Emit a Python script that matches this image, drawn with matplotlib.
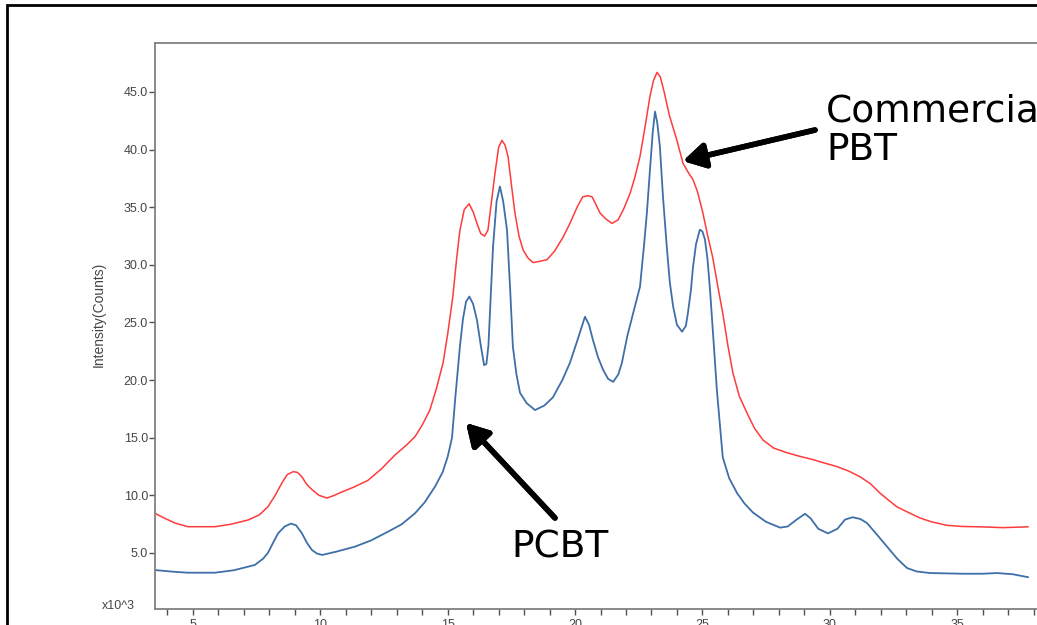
import matplotlib
matplotlib.use("Agg")
import matplotlib.pyplot as plt
from matplotlib.patches import Rectangle
from matplotlib.ticker import MultipleLocator, FixedLocator

plt.rcParams['font.family'] = ['Liberation Sans', 'DejaVu Sans']

# 2-theta (deg) / intensity (x10^3 counts)
pbt_x = [3.51, 3.9, 4.3, 4.8, 5.86, 6.5, 7.16, 7.6, 7.94, 8.2, 8.5, 8.7, 8.93, 9.1,
         9.28, 9.45, 9.67, 9.95, 10.26, 10.55, 10.85, 11.3, 11.87, 12.4, 12.93, 13.4,
         13.72, 14.0, 14.3, 14.55, 14.82, 15.0, 15.2, 15.35, 15.48, 15.65, 15.84, 16.0,
         16.15, 16.3, 16.45, 16.58, 16.72, 16.86, 17.0, 17.13, 17.25, 17.37, 17.5,
         17.64, 17.8, 17.96, 18.15, 18.35, 18.6, 18.9, 19.2, 19.53, 19.8, 20.08, 20.3,
         20.5, 20.67, 20.85, 20.98, 21.2, 21.45, 21.69, 21.9, 22.16, 22.35, 22.55,
         22.75, 22.94, 23.08, 23.22, 23.35, 23.5, 23.7, 24.0, 24.24, 24.45, 24.63,
         24.8, 25.02, 25.2, 25.4, 25.6, 25.8, 26.0, 26.2, 26.45, 26.75, 27.05, 27.38,
         27.8, 28.32, 28.8, 29.34, 29.8, 30.28, 30.75, 31.2, 31.6, 31.97, 32.3, 32.64,
         33.1, 33.54, 34.0, 34.6, 35.2, 35.9, 36.8, 37.78]
pbt_y = [8.44, 8.0, 7.6, 7.28, 7.28, 7.5, 7.86, 8.3, 9.0, 9.9, 11.1, 11.8, 12.05, 12.0,
         11.6, 11.0, 10.5, 10.0, 9.77, 10.0, 10.3, 10.7, 11.3, 12.3, 13.5, 14.4,
         15.1, 16.1, 17.4, 19.2, 21.5, 24.0, 27.2, 30.5, 33.0, 34.8, 35.3, 34.6,
         33.6, 32.7, 32.5, 33.0, 35.5, 38.0, 40.2, 40.8, 40.4, 39.4, 37.0,
         34.5, 32.5, 31.3, 30.6, 30.2, 30.3, 30.45, 31.2, 32.4, 33.6, 35.0, 35.9,
         36.0, 35.9, 35.1, 34.5, 34.0, 33.6, 33.9, 34.8, 36.2, 37.6, 39.4,
         42.0, 44.6, 46.0, 46.7, 46.3, 45.0, 43.0, 40.8, 38.8, 38.0, 37.4,
         36.4, 34.5, 32.6, 30.7, 28.2, 25.8, 23.0, 20.6, 18.6, 17.15, 15.8, 14.8,
         14.1, 13.7, 13.4, 13.1, 12.8, 12.5, 12.1, 11.6, 11.0, 10.2, 9.6, 9.0,
         8.5, 8.04, 7.7, 7.4, 7.3, 7.27, 7.2, 7.27]

pcbt_x = [3.51, 4.2, 4.8, 5.86, 6.6, 7.43, 7.75, 7.94, 8.15, 8.34, 8.6, 8.85, 9.05,
          9.28, 9.47, 9.67, 9.87, 10.07, 10.6, 11.36, 12.0, 12.66, 13.2, 13.72, 14.1,
          14.5, 14.8, 15.0, 15.17, 15.3, 15.48, 15.6, 15.72, 15.85, 16.0, 16.15, 16.3,
          16.43, 16.52, 16.6, 16.78, 16.92, 17.05, 17.18, 17.33, 17.45, 17.56, 17.7,
          17.84, 18.1, 18.43, 18.8, 19.13, 19.5, 19.8, 20.1, 20.39, 20.55, 20.7, 20.9,
          21.1, 21.3, 21.5, 21.7, 21.84, 22.05, 22.28, 22.55, 22.7, 22.82, 22.95,
          23.05, 23.14, 23.23, 23.33, 23.45, 23.6, 23.72, 23.85, 24.0, 24.2, 24.35,
          24.43, 24.55, 24.63, 24.75, 24.9, 25.0, 25.1, 25.2, 25.3, 25.45, 25.57,
          25.7, 25.8, 26.05, 26.36, 26.65, 26.99, 27.5, 28.05, 28.35, 28.7, 29.03,
          29.25, 29.55, 29.93, 30.3, 30.6, 30.9, 31.2, 31.46, 31.85, 32.25, 32.65,
          33.03, 33.4, 33.94, 35.23, 36.0, 36.57, 37.2, 37.78]
pcbt_y = [3.52, 3.38, 3.29, 3.29, 3.5, 3.96, 4.5, 5.0, 5.9, 6.7, 7.3, 7.55, 7.4,
          6.7, 5.9, 5.26, 4.95, 4.83, 5.1, 5.55, 6.1, 6.85, 7.5, 8.45, 9.4,
          10.75, 12.0, 13.35, 15.0, 18.5, 22.9, 25.3, 26.8, 27.25, 26.6, 25.2, 23.0,
          21.3, 21.4, 23.0, 31.55, 35.5, 36.8, 35.5, 33.0, 28.0, 22.9, 20.5,
          18.9, 18.0, 17.4, 17.8, 18.5, 20.0, 21.5, 23.5, 25.5, 24.8, 23.5, 22.0,
          20.9, 20.1, 19.85, 20.5, 21.5, 23.8, 25.8, 28.1, 31.5, 34.5, 38.5,
          41.5, 43.3, 42.3, 40.3, 36.0, 31.6, 28.5, 26.4, 24.8, 24.2, 24.7,
          25.8, 27.8, 29.8, 31.8, 33.05, 32.9, 32.2, 30.5, 27.8, 23.0, 19.1,
          15.8, 13.3, 11.5, 10.2, 9.3, 8.5, 7.7, 7.2, 7.3, 7.9, 8.4,
          8.0, 7.1, 6.7, 7.1, 7.9, 8.1, 7.95, 7.6, 6.6, 5.55, 4.5,
          3.7, 3.4, 3.26, 3.2, 3.2, 3.26, 3.15, 2.9]

y_ticks = [5, 10, 15, 20, 25, 30, 35, 40, 45]

W, H = 1037, 625
fig = plt.figure(figsize=(W / 100, H / 100), dpi=100)

# outer frame of the slide
fig.patches.append(Rectangle((7 / W, -0.1), 1.2, 1.1 - 5 / H, transform=fig.transFigure,
                             fill=False, edgecolor='black', linewidth=2, zorder=0))

ax = fig.add_axes([155 / W, 16 / H, 890 / W, 566 / H])
ax.plot(pbt_x, pbt_y, color='#ff3b3b', lw=1.1)
ax.plot(pcbt_x, pcbt_y, color='#3f6fa8', lw=1.3)

ax.set_xlim(3.51, 38.45)
ax.set_ylim(0.14, 49.25)

ax.xaxis.set_major_locator(MultipleLocator(5))
ax.xaxis.set_minor_locator(MultipleLocator(1))
ax.yaxis.set_major_locator(FixedLocator(y_ticks))
ax.yaxis.set_major_formatter(plt.FuncFormatter(lambda v, p: f"{v:.1f}"))

for s in ax.spines.values():
    s.set_color('#808080')
    s.set_linewidth(1.3)
ax.spines['right'].set_visible(False)
ax.tick_params(axis='both', which='both', colors='#505050', labelcolor='#454545',
               labelsize=9, width=1, direction='out')
ax.tick_params(axis='x', which='both', length=4, pad=3)
ax.tick_params(axis='y', length=4, pad=1)

ax.set_ylabel("Intensity(Counts)", fontsize=10, color='#454545')
ax.yaxis.set_label_coords(-0.055, 0.52)
fig.text(118 / W, 1 - 606 / H, "x10^3", fontsize=9, color='#454545',
         ha='center', va='center')

# annotations in pixel-like figure coords
def fx(px):
    return px / W

def fy(py):
    return 1 - py / H

arrow = dict(arrowstyle='-|>,head_length=1.3,head_width=0.75', color='black', lw=4,
             shrinkA=0, shrinkB=0)
fig.add_artist(plt.annotate("", xy=(fx(683), fy(161)), xytext=(fx(815), fy(130)),
                            xycoords='figure fraction', textcoords='figure fraction',
                            arrowprops=arrow))
fig.add_artist(plt.annotate("", xy=(fx(466), fy(423)), xytext=(fx(555), fy(518)),
                            xycoords='figure fraction', textcoords='figure fraction',
                            arrowprops=arrow))

big = dict(fontsize=27, family=['DejaVu Sans'], ha='left', va='center')
fig.text(fx(826), fy(112), "Commercial", **big)
fig.text(fx(826), fy(150), "PBT", **big)
fig.text(fx(511), fy(548), "PCBT", **big)

fig.savefig("out.png", dpi=100)
